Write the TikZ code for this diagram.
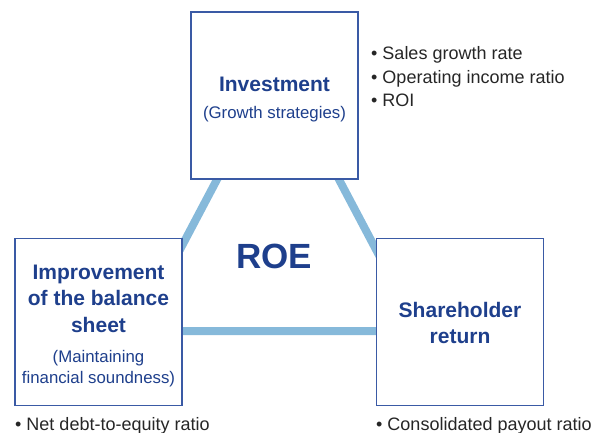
\documentclass[tikz,border=0pt]{standalone}
\usepackage{fontspec}
\setmainfont{Liberation Sans}
\definecolor{roenavy}{HTML}{1E3F8C}
\definecolor{roeframe}{HTML}{3A5AA5}
\definecolor{roelink}{HTML}{86B9DA}
\newcommand{\headfont}{\fontsize{21}{26.5}\selectfont\bfseries}
\newcommand{\subfont}{\fontsize{16.8}{20}\selectfont\mdseries}
\tikzset{pillar/.style={draw=roeframe, line width=1.2pt, fill=white, minimum width=167pt, minimum height=167pt, inner sep=0pt},
  caption/.style={align=center, text=roenavy, font=\headfont, inner sep=0pt},
  kpi/.style={anchor=base west, inner sep=0pt, text=black!85, font=\fontsize{18}{22}\selectfont}}

\begin{document}
\begin{tikzpicture}[x=1pt, y=-1pt]
      \useasboundingbox (0,0) rectangle (608,433);
      % triangle behind the three boxes
      \coordinate (apex) at (278,64);
      \coordinate (baseL) at (137,331);
      \coordinate (baseR) at (419,331);
      \draw[roelink, line width=8pt] (apex) -- (baseL) -- (baseR) -- cycle;
      \node[pillar] (inv) at (274.5,95.5) {};
      \node[pillar] (bal) at (98.5,322) {};
      \node[pillar] (ret) at (460,322) {};
      \node[caption] (invText) at ([yshift=-4pt]inv.center) {Investment\\[0pt]\subfont (Growth strategies)};
      \node[caption] (balText) at ([yshift=-4pt]bal.center) {Improvement\\of the balance\\sheet\\[4pt]\subfont (Maintaining\\[-6pt]\subfont financial soundness)};
      \node[caption] (retText) at ([yshift=-1pt]ret.center) {Shareholder\\return};
      \node[text=roenavy, font=\fontsize{35}{40}\selectfont\bfseries, anchor=base] (roe) at (274,268) {ROE};
      \node[kpi] (kpiA) at (371,60) {\textbullet\ Sales growth rate};
      \node[kpi] (kpiB) at (371,83.5) {\textbullet\ Operating income ratio};
      \node[kpi] (kpiC) at (371,107) {\textbullet\ ROI};
      \node[kpi] (kpiD) at (15,430) {\textbullet\ Net debt-to-equity ratio};
      \node[kpi] (kpiE) at (376,430) {\textbullet\ Consolidated payout ratio};
    \end{tikzpicture}
\end{document}
